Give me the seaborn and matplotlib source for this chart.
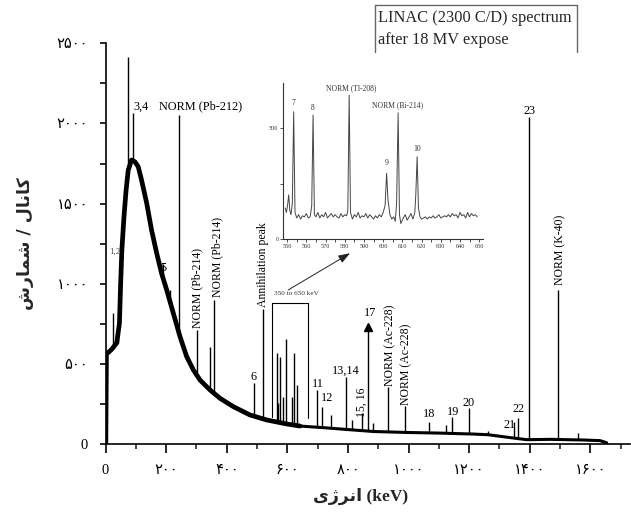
import numpy as np
import pandas as pd
import matplotlib
matplotlib.use("Agg")
import matplotlib.pyplot as plt
import seaborn as sns
from matplotlib.lines import Line2D
from matplotlib.ticker import MultipleLocator

# ---------------- data ----------------
cont_energy = [1, 3, 20, 37, 46, 50, 54, 61, 68, 75, 86, 97, 108, 119, 136, 152, 169, 185, 202,
               224, 246, 268, 290, 312, 345, 378, 422, 477, 532, 598, 642, 719, 800, 884, 994,
               1104, 1214, 1262, 1335, 1390, 1467, 1577, 1632, 1654]
cont_counts = [0, 560, 590, 630, 753, 1002, 1210, 1418, 1585, 1709, 1772, 1761, 1730, 1647, 1502,
               1335, 1190, 1065, 961, 815, 669, 545, 462, 399, 337, 285, 233, 181, 150, 125, 112,
               102, 90, 78, 72, 68, 62, 58, 40, 27, 29, 25, 21, 8]

peak_energy = [26, 42, 75, 90, 189, 213, 244, 301, 345, 359, 490, 521, 565, 568, 576, 587, 595,
               617, 623, 633, 699, 713, 743, 794, 812, 846, 867, 882, 932, 988, 1069, 1124, 1145,
               1200, 1262, 1349, 1362, 1399, 1493, 1560]
peak_top = [815, 755, 2412, 2065, 1120, 960, 2052, 711, 607, 898, 380, 842, 566, 256, 545, 295,
            655, 295, 568, 368, 337, 233, 181, 420, 150, 192, 732, 129, 354, 237, 139, 119, 170,
            223, 80, 139, 160, 2042, 961, 70]
peak_base = [590, 630, 1709, 1772, 1030, 880, 680, 410, 337, 310, 190, 160, 140, 140, 138, 135,
             130, 125, 122, 118, 102, 100, 98, 92, 90, 86, 82, 80, 76, 72, 68, 66, 65, 62, 58, 36,
             34, 25, 28, 25]

ann_text = ["3,4", "NORM (Pb-212)", "5", "6", "11", "12", "13,14", "17", "18", "19", "20",
            "21", "22", "23"]
ann_x = [117, 315, 191, 490, 702, 732, 794, 873, 1069, 1148, 1197, 1335, 1362, 1399]
ann_y = [2104, 2104, 1096, 420, 372, 289, 457, 815, 187, 201, 258, 119, 216, 2079]

vert_text = ["NORM (Pb-214)", "NORM (Pb-214)", "Annihilation peak", "15, 16",
             "NORM (Ac-228)", "NORM (Ac-228)", "NORM (K-40)"]
vert_x = [303, 370, 521, 846, 939, 994, 1502]
vert_y = [722, 919, 857, 170, 362, 243, 992]

bracket_x = [548, 548, 667, 667]
bracket_y = [170, 878, 878, 162]

inset_energy = [549.0, 549.6, 550.2, 550.8, 551.4, 552.0, 552.7, 553.4, 554.1, 555, 556, 557, 558,
                559, 560, 561, 562, 562.8, 563.5, 564.2, 565, 566, 567, 568, 569, 570, 571, 572,
                573, 574, 575, 576, 577, 578, 579, 580, 581, 581.6, 582.3, 583.0, 584, 585, 586,
                587, 588, 589, 590, 591, 592, 593, 594, 595, 596, 597, 598, 599, 600, 601,
                601.8, 602.5, 603.5, 604.5, 605.5, 606.3, 607.0, 607.8, 608.5, 609.2, 610.5,
                611.5, 612.5, 613.5, 614.5, 615.5, 616.5, 617.0, 617.7, 618.4, 619.2, 620, 621,
                622, 623, 624, 625, 626, 627, 628, 629, 630, 631, 632, 633, 634, 635, 636, 637,
                638, 639, 640, 641, 642, 643, 644, 645, 646, 647, 648, 649]
inset_counts = [140, 120, 150, 199, 130, 110, 160, 575, 120, 95, 110, 90, 105, 100, 115, 95, 100,
                150, 560, 110, 100, 120, 95, 110, 100, 120, 95, 105, 115, 100, 110, 100, 95, 115,
                100, 110, 105, 130, 650, 120, 90, 110, 100, 120, 95, 105, 100, 115, 95, 110, 100,
                90, 105, 95, 110, 100, 120, 150, 297, 180, 110, 90, 100, 80, 160, 570, 110, 70,
                95, 110, 85, 100, 115, 90, 120, 200, 372, 140, 100, 90, 95, 100, 90, 100, 95, 105,
                95, 100, 110, 95, 100, 105, 100, 110, 100, 115, 105, 110, 95, 120, 105, 110, 95,
                120, 100, 115, 105, 110, 100]

inset_ann_text = ["7", "8", "NORM (Tl-208)", "9", "NORM (Bi-214)", "10"]
inset_ann_x = [553.4, 563.5, 583.4, 601.8, 607.4, 617.7]
inset_ann_y = [616, 590, 681, 345, 605, 405]

arrow_start = (603, 961)
arrow_end = (807, 1190)

x_ticks = [0, 200, 400, 600, 800, 1000, 1200, 1400, 1600]
x_tick_labels = ["0", "۲۰۰", "۴۰۰", "۶۰۰", "۸۰۰", "۱۰۰۰", "۱۲۰۰", "۱۴۰۰", "۱۶۰۰"]
y_ticks = [0, 500, 1000, 1500, 2000, 2500]
y_tick_labels = ["0", "۵۰۰", "۱۰۰۰", "۱۵۰۰", "۲۰۰۰", "۲۵۰۰"]
inset_x_ticks = [550, 560, 570, 580, 590, 600, 610, 620, 630, 640, 650]
inset_y_ticks = [0, 500]

# Persian labels written in visual (shaped) order
x_label = "\uFBFC\uFB8A\uFEAE\uFEE7\uFE8D (keV)"            # انرژی (keV)
y_label = "\uFEB5\uFEAD\uFE8E\uFEE4\uFEB7 / \uFEDD\uFE8E\uFEE7\uFE8E\uFB90"  # کانال / شمارش
title_lines = ["LINAC (2300 C/D) spectrum", "after 18 MV expose"]

# ---------------- figure ----------------
sns.set_style("ticks")
plt.rcParams['font.family'] = ['Liberation Serif', 'DejaVu Sans']

W, H = 631, 514
fig = plt.figure(figsize=(W / 100, H / 100), dpi=100)
ax = fig.add_axes([105.5 / W, 1 - 444 / H, (630 - 105.5) / W, (444 - 43.3) / H])

cont_df = pd.DataFrame({"energy": cont_energy, "counts": cont_counts})
low = cont_df[cont_df["energy"] <= 642]
high = cont_df[cont_df["energy"] >= 598]
sns.lineplot(data=low, x="energy", y="counts", ax=ax, color="black", lw=3.4,
             sort=False, estimator=None)
sns.lineplot(data=high, x="energy", y="counts", ax=ax, color="black", lw=2.2,
             sort=False, estimator=None)
ax.vlines(peak_energy, peak_base, peak_top, colors="black", lw=1.0)
ax.plot(bracket_x, bracket_y, color="black", lw=0.8)
ax.plot([867], [732], marker="^", ms=5.5, color="black", ls="none")

ax.set_xlim(0, 1731)
ax.set_ylim(0, 2500)
for s in ["top", "right"]:
    ax.spines[s].set_visible(False)
for s in ["left", "bottom"]:
    ax.spines[s].set_linewidth(1.2)
    ax.spines[s].set_color("black")

ax.set_xticks(x_ticks)
ax.set_xticklabels(x_tick_labels, fontsize=10.5)
ax.xaxis.set_minor_locator(MultipleLocator(100))
ax.set_yticks(y_ticks)
ax.set_yticklabels(y_tick_labels, fontsize=10.5)
ax.yaxis.set_minor_locator(MultipleLocator(250))
ax.tick_params(axis="x", which="major", direction="out", length=6.5, width=1.2, pad=8,
               colors="black")
ax.tick_params(axis="x", which="minor", direction="out", length=3.5, width=1.2)
ax.tick_params(axis="y", which="both", direction="out", length=4.5, width=1.2, pad=8,
               colors="black")

ax.set_xlabel(x_label, fontsize=12.5, fontweight="bold")
ax.xaxis.set_label_coords(0.487, -0.11)
ax.set_ylabel(y_label, fontsize=12.5, fontweight="bold", family=["DejaVu Sans"])
ax.yaxis.set_label_coords(-0.137, 0.5)

for t, x, y in zip(ann_text, ann_x, ann_y):
    ax.text(x, y, t, fontsize=8.8, ha="center", va="center", color="black")
ax.text(31, 1200, "1,2", fontsize=6.5, ha="center", va="center", color="#555555")
for t, x, y in zip(vert_text, vert_x, vert_y):
    ax.text(x, y, t, fontsize=8.5, ha="center", va="bottom", rotation=90, color="black")
ax.text(631, 940, "350 to 650 keV", fontsize=5.2, ha="center", va="center", color="#333333")
ax.annotate("", xy=arrow_end, xytext=arrow_start,
            arrowprops=dict(arrowstyle="-|>,head_length=0.7,head_width=0.25", color="#222222",
                            lw=0.7, shrinkA=0, shrinkB=0))

# ---------------- inset ----------------
axi = fig.add_axes([283.3 / W, 1 - 239 / H, (483 - 283.3) / W, (239 - 83) / H])
axi.patch.set_alpha(0)
inset_df = pd.DataFrame({"energy": inset_energy, "counts": inset_counts})
sns.lineplot(data=inset_df, x="energy", y="counts", ax=axi, color="#444444", lw=0.7,
             sort=False, estimator=None)
axi.set_xlim(548, 652)
axi.set_ylim(0, 705)
for s in ["top", "right"]:
    axi.spines[s].set_visible(False)
for s in ["left", "bottom"]:
    axi.spines[s].set_linewidth(0.8)
    axi.spines[s].set_color("#333333")
axi.set_xticks(inset_x_ticks)
axi.set_xticklabels([str(v) for v in inset_x_ticks], fontsize=4.5, color="#333333")
axi.xaxis.set_minor_locator(MultipleLocator(5))
axi.set_yticks(inset_y_ticks)
axi.set_yticklabels([str(v) for v in inset_y_ticks], fontsize=4.5, color="#333333")
axi.yaxis.set_minor_locator(MultipleLocator(250))
axi.tick_params(which="both", direction="out", length=2, width=0.6, pad=1.5, colors="#333333")
axi.set_xlabel("")
axi.set_ylabel("")
for t, x, y in zip(inset_ann_text, inset_ann_x, inset_ann_y):
    axi.text(x, y, t, fontsize=5.5, ha="center", va="center", color="#333333")

# ---------------- title box ----------------
fig.text(378 / W, 1 - 18 / H, title_lines[0], fontsize=11.8, ha="left", va="center")
fig.text(378 / W, 1 - 40 / H, title_lines[1], fontsize=11.8, ha="left", va="center")
box_col = "#666666"
fig.add_artist(Line2D([375 / W, 375 / W], [1 - 5 / H, 1 - 52 / H], color=box_col, lw=1.0))
fig.add_artist(Line2D([375 / W, 577 / W], [1 - 5 / H, 1 - 5 / H], color=box_col, lw=1.0))
fig.add_artist(Line2D([577 / W, 577 / W], [1 - 5 / H, 1 - 52 / H], color=box_col, lw=1.0))

fig.savefig("out.png", dpi=100)
